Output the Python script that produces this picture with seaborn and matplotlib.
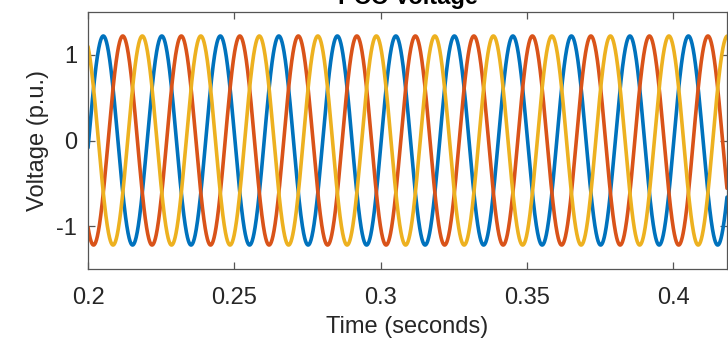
import numpy as np
import pandas as pd
import matplotlib
matplotlib.use('Agg')
import matplotlib.pyplot as plt
import seaborn as sns

# values: three-phase PCC voltage, 50 Hz, ~1.22 p.u. peak
freqHz = 50.0
amplitudePu = 1.22
phaseNames = ['Va', 'Vb', 'Vc']
phaseDeg = [-4.0, -124.0, 116.0]      # phase of each wave at t = 0.2 s
phaseColors = ['#0072BD', '#D95319', '#EDB120']
tStart = 0.2
tEnd = 0.4184
xTicks = [0.2, 0.25, 0.3, 0.35, 0.4]
xTickLabels = ['0.2', '0.25', '0.3', '0.35', '0.4']
yTicks = [-1, 0, 1]
yTickLabels = ['-1', '0', '1']


def buildFrame():
    t = np.linspace(tStart, tEnd, 3000)
    rows = []
    for name, deg in zip(phaseNames, phaseDeg):
        v = amplitudePu * np.sin(2 * np.pi * freqHz * (t - tStart) + np.deg2rad(deg))
        rows.append(pd.DataFrame({'time': t, 'voltage': v, 'phase': name}))
    return pd.concat(rows, ignore_index=True)


def main():
    sns.set_style('ticks')
    plt.rcParams['font.family'] = ['Liberation Sans', 'DejaVu Sans']

    df = buildFrame()

    fig = plt.figure(figsize=(7.28, 3.41), dpi=100)
    ax = fig.add_axes([0.1209, 0.2111, 0.8777, 0.7537])

    sns.lineplot(data=df, x='time', y='voltage', hue='phase', hue_order=phaseNames,
                 palette=phaseColors, linewidth=2.6, legend=False, ax=ax,
                 estimator=None, sort=False)

    ax.set_xlim(tStart, tEnd)
    ax.set_ylim(-1.5, 1.5)
    ax.set_xticks(xTicks)
    ax.set_xticklabels(xTickLabels)
    ax.set_yticks(yTicks)
    ax.set_yticklabels(yTickLabels)

    for side in ['top', 'right', 'bottom', 'left']:
        ax.spines[side].set_visible(True)
        ax.spines[side].set_color('#555555')
        ax.spines[side].set_linewidth(0.9)
    ax.tick_params(direction='in', top=True, right=True, length=5, width=0.9,
                   color='#555555', labelsize=17, labelcolor='#262626')
    ax.tick_params(axis='x', pad=13)
    ax.tick_params(axis='y', pad=8)

    ax.set_xlabel('Time (seconds)', fontsize=17, color='#262626', labelpad=5)
    ax.set_ylabel('Voltage (p.u.)', fontsize=17, color='#262626', labelpad=5)
    ax.set_title('PCC Voltage', fontsize=17, fontweight='bold', color='#000000', pad=6)

    fig.savefig('out.png', dpi=100)


if __name__ == '__main__':
    main()
